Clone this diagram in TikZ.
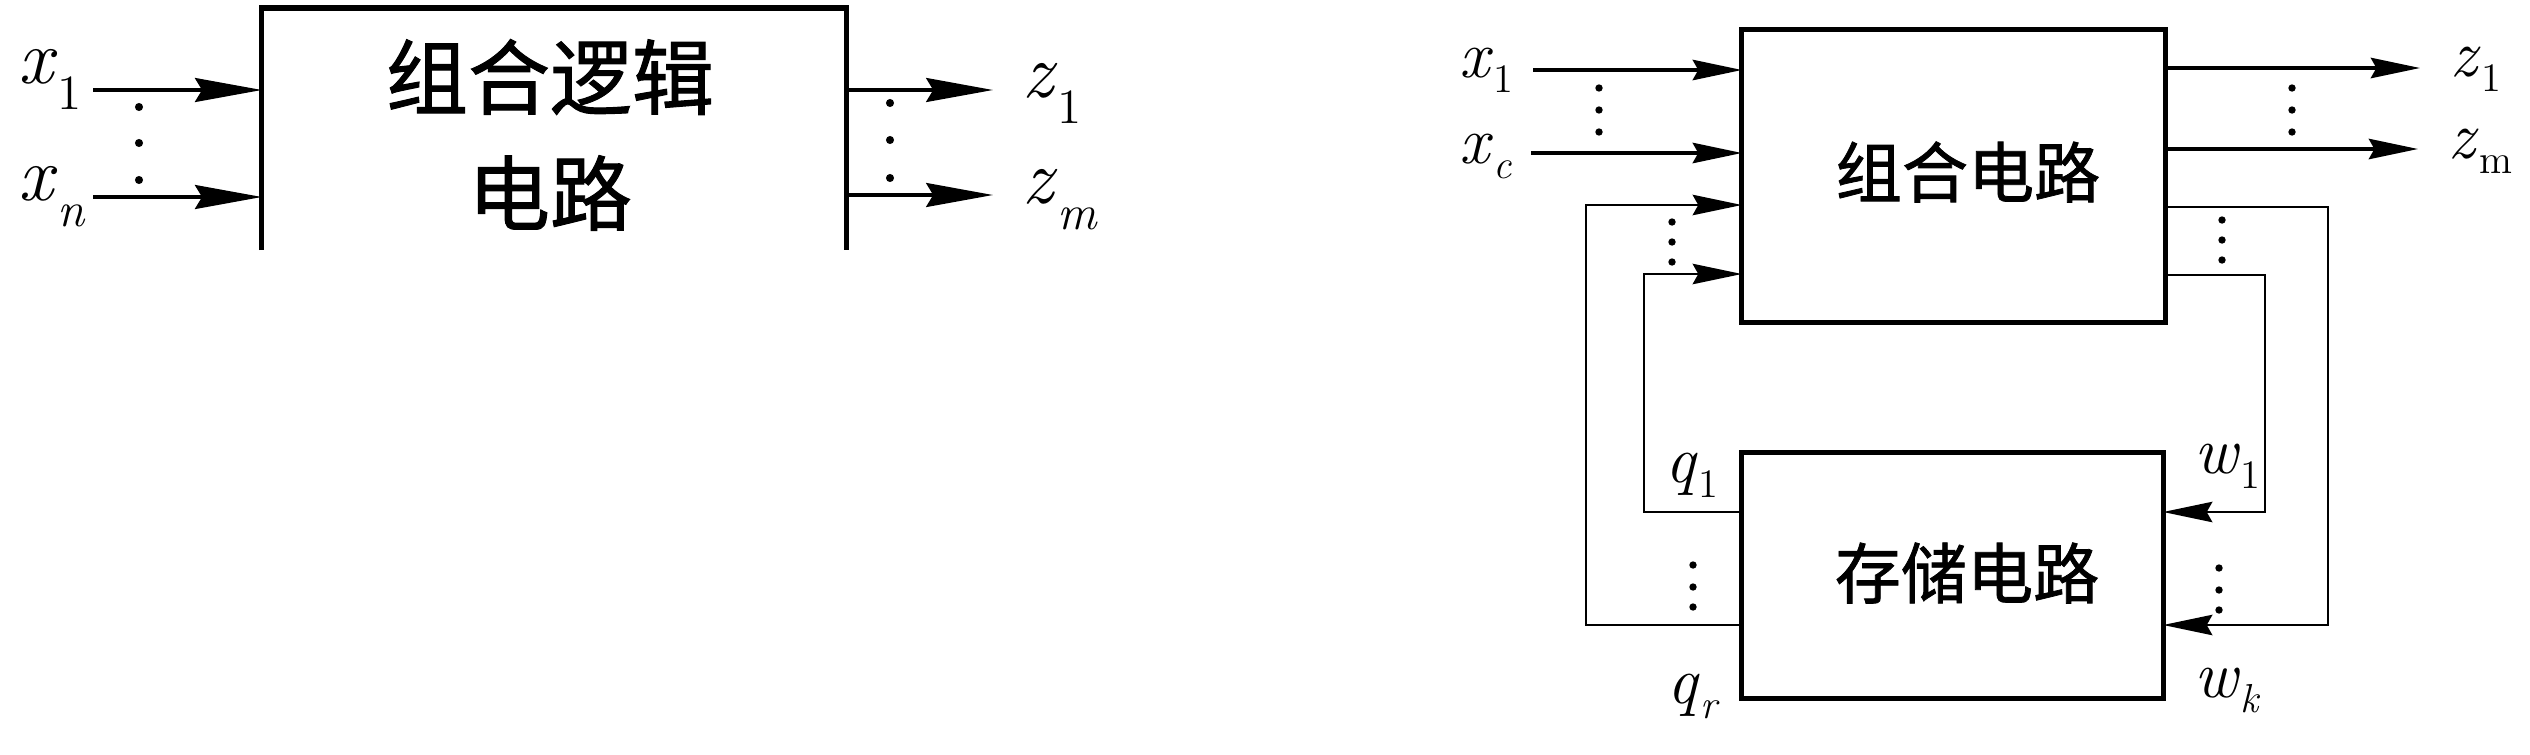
\documentclass[tikz,border=0pt]{standalone}
\usepackage{fontspec}
\newfontfamily\cjk{Noto Sans CJK SC}[FakeBold=1.2]
\usetikzlibrary{arrows.meta}
\newcommand\LabL[2]{{\fontsize{22pt}{22pt}\selectfont\textit{#1}\raisebox{-7.5pt}{\fontsize{14pt}{14pt}\selectfont #2}}}
\newcommand\LabR[2]{{\fontsize{19pt}{19pt}\selectfont\textit{#1}\raisebox{-4.3pt}{\fontsize{11.5pt}{11.5pt}\selectfont #2}}}
\begin{document}
\begin{tikzpicture}[x=0.01cm,y=-0.01cm,
  box/.style={draw, line width=1.4pt, inner sep=0pt, outer sep=0pt},
  ghost/.style={inner sep=0pt, outer sep=0pt},
  arrL/.style={line width=1.05pt, -{Stealth[length=19pt,width=6.8pt,inset=2pt]}},
  arrR/.style={line width=0.9pt, -{Stealth[length=14pt,width=5.8pt,inset=1.6pt]}},
  fbline/.style={line width=0.65pt},
  fbarr/.style={line width=0.65pt, -{Stealth[length=14pt,width=5.8pt,inset=1.6pt]}},
  lab/.style={inner sep=0pt, anchor=base west},
  cnL/.style={inner sep=0pt, font=\cjk\fontsize{23.3pt}{23.3pt}\selectfont},
  cnR/.style={inner sep=0pt, font=\cjk\fontsize{18.8pt}{18.8pt}\selectfont}
]
\useasboundingbox (0,0) rectangle (2530,754);

% ---------- left diagram ----------
\node[ghost, minimum width=5.84cm, minimum height=2.42cm] (L) at (554,129) {};
\draw[line width=1.5pt] (L.south west) -- (L.north west) -- (L.north east) -- (L.south east);
\node[cnL] (t1) at (550,77) {组合逻辑};
\node[cnL] (t2) at (550,193) {电路};

\coordinate (lx1) at (93,90);
\coordinate (lxn) at (93,197);
\coordinate (lz1) at (993,90);
\coordinate (lzm) at (993,195);
\draw[arrL] (lx1) -- (lx1 -| L.west);
\draw[arrL] (lxn) -- (lxn -| L.west);
\draw[arrL] (lz1 -| L.east) -- (lz1);
\draw[arrL] (lzm -| L.east) -- (lzm);

\node[lab] (nx1) at (18,83) {\LabL{x}{1}};
\node[lab] (nxn) at (18,200) {\LabL{x}{\textit{n}}};
\node[lab] (nz1) at (1022,97) {\LabL{z}{1}};
\node[lab] (nzm) at (1022,203) {\LabL{z}{\textit{m}}};

\foreach \yy in {107,143,180} \fill (139,\yy) circle[radius=1.15pt];
\foreach \yy in {103,140,178} \fill (890,\yy) circle[radius=1.15pt];

% ---------- right diagram ----------
\node[box, minimum width=4.23cm, minimum height=2.92cm] (C) at (1953.5,176) {};
\node[box, minimum width=4.21cm, minimum height=2.45cm] (S) at (1952.5,575.5) {};
\node[cnR] (t3) at (1968,172) {组合电路};
\node[cnR] (t4) at (1967,573) {存储电路};

\coordinate (rx1) at (1533,70);
\coordinate (rxc) at (1531,153);
\coordinate (rz1) at (2420,68);
\coordinate (rzm) at (2418,149);
\draw[arrR] (rx1) -- (rx1 -| C.west);
\draw[arrR] (rxc) -- (rxc -| C.west);
\draw[arrR] (rz1 -| C.east) -- (rz1);
\draw[arrR] (rzm -| C.east) -- (rzm);

% feedback from storage to combinational
\coordinate (qa) at (1586,625);
\coordinate (fa) at (1586,205);
\coordinate (qb) at (1644,512);
\coordinate (fb) at (1644,274);
\draw[fbarr] (qa -| S.west) -- (qa) -- (fa) -- (fa -| C.west);
\draw[fbarr] (qb -| S.west) -- (qb) -- (fb) -- (fb -| C.west);

% feedback from combinational to storage
\coordinate (wa) at (2328,207);
\coordinate (wa2) at (2328,625);
\coordinate (wb) at (2265,275);
\coordinate (wb2) at (2265,512);
\draw[fbarr] (wa -| C.east) -- (wa) -- (wa2) -- (wa2 -| S.east);
\draw[fbarr] (wb -| C.east) -- (wb) -- (wb2) -- (wb2 -| S.east);

\node[lab] (rnx1) at (1459,77) {\LabR{x}{1}};
\node[lab] (rnxc) at (1459,163) {\LabR{x}{\textit{c}}};
\node[lab] (rnz1) at (2450,76) {\LabR{z}{1}};
\node[lab] (rnzm) at (2448,158) {\LabR{z}{m}};
\node[lab] (nq1) at (1665,482) {\LabR{q}{1}};
\node[lab] (nqr) at (1667,703) {\LabR{q}{\textit{r}}};
\node[lab] (nw1) at (2194,473) {\LabR{w}{1}};
\node[lab] (nwk) at (2194,697) {\LabR{w}{\textit{k}}};

\foreach \yy in {88,110,132} \fill (1599,\yy) circle[radius=1.05pt];
\foreach \yy in {88,110,132} \fill (2292,\yy) circle[radius=1.05pt];
\foreach \yy in {222,242,262} \fill (1672,\yy) circle[radius=1.05pt];
\foreach \yy in {220,240,260} \fill (2222,\yy) circle[radius=1.05pt];
\foreach \yy in {565,587,607} \fill (1693,\yy) circle[radius=1.05pt];
\foreach \yy in {568,590,610} \fill (2219,\yy) circle[radius=1.05pt];
\end{tikzpicture}
\end{document}
